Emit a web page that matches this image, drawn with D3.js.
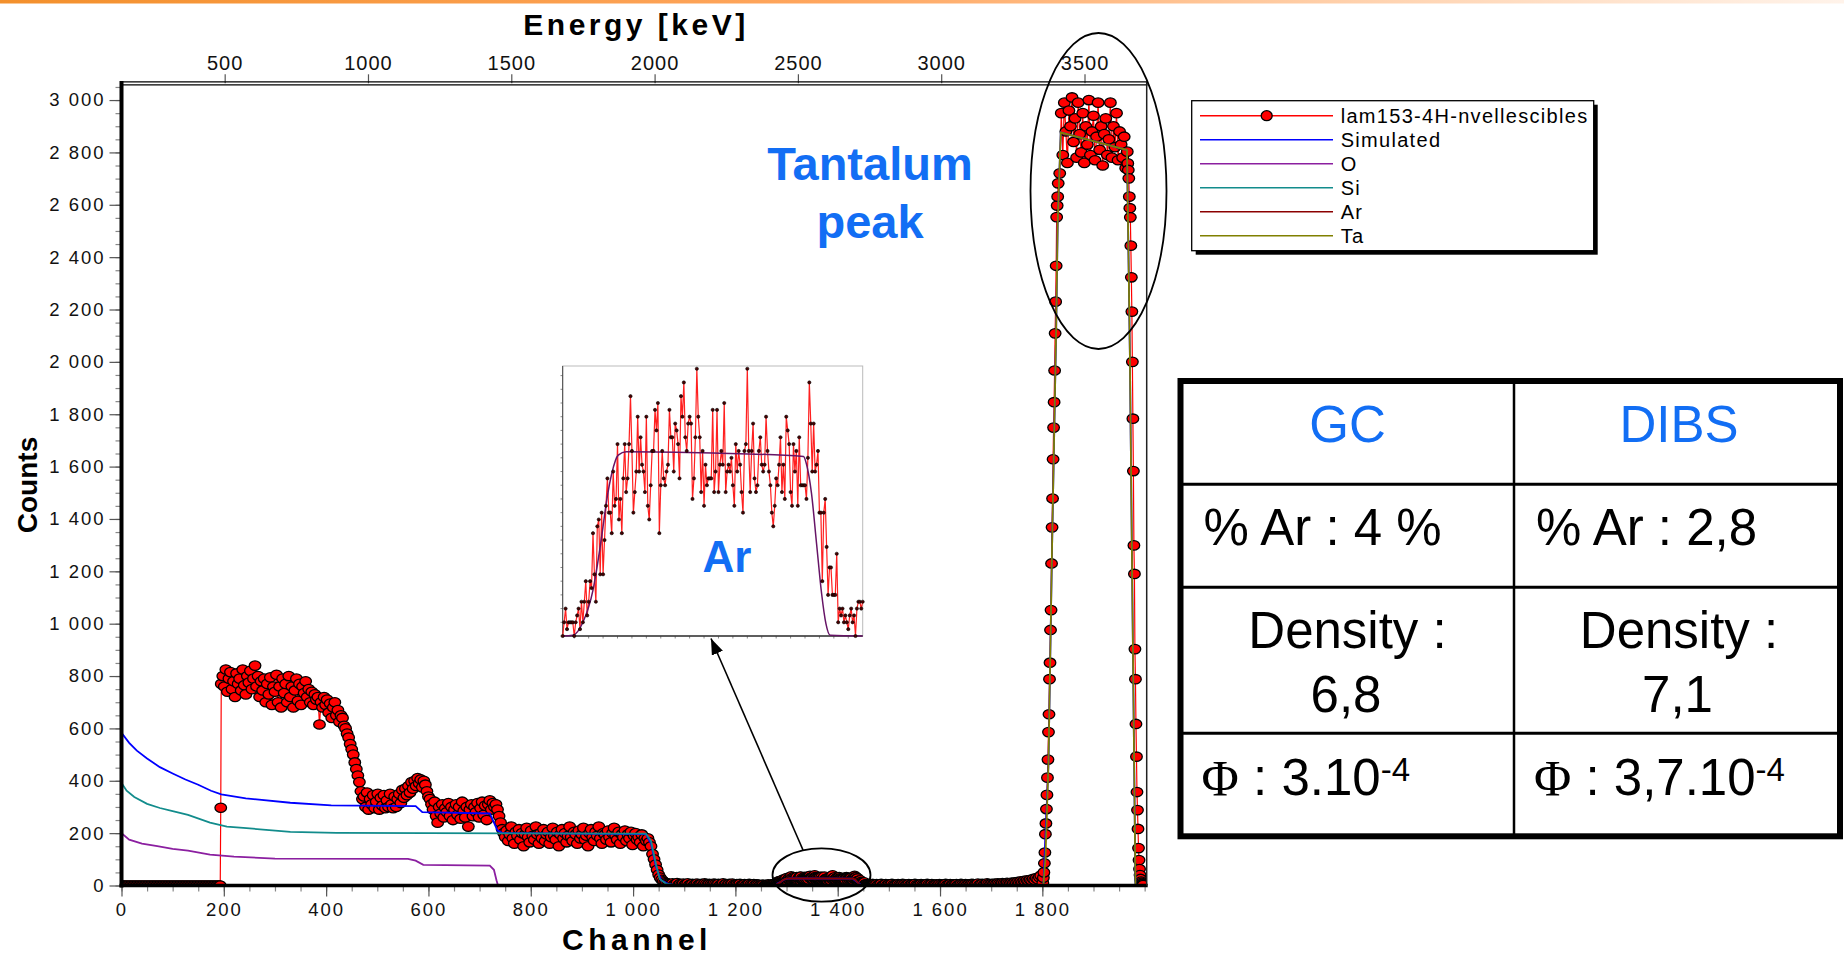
<!DOCTYPE html>
<html>
<head>
<meta charset="utf-8">
<title>RBS spectrum - Tantalum peak</title>
<style>
  body { margin: 0; background: #fff; overflow: hidden; }
  svg { display: block; font-family: "Liberation Sans", Arial, sans-serif; }
  .axis text { font-family: "Liberation Sans", Arial, sans-serif; font-size: 18.5px; letter-spacing: 2px; fill: #111; }
  .axis line { stroke: #555; stroke-width: 1.2; }
  .axis.minor line { stroke: #888; }
  .eaxis text { font-size: 20px; letter-spacing: 1px; }
  .title { font-weight: bold; fill: #000; }
  .legend text { font-size: 20px; letter-spacing: 1.3px; fill: #000; }
  .cell { font-size: 51px; fill: #000; }
  .blue { fill: #126ef4; }
</style>
</head>
<body>
<script src="https://d3js.org/d3.v7.min.js"></script>
<script>

// ---------- measured spectrum: counts per channel, read off the plot ----------
// each block: first channel, channel step, counts
var leadCounts = [
  0,0,0,0,0,0,0,0,0,0,0,0,0,
  0,0,0,0,0,0,0,0,0,0,0,0,0,
  0,0,0,0,0,0,0,0,0,0,0,0,0,
  0,0,0,0,0,0,0,0,0,0,0,0,0,
  0,0,0,0,0,0,0,0,0,0,0,0,0
];
var edgePoints = [[193, 0], [194, 297]];
var plateauCounts = [
  770,800,760,825,740,790,815,750,780,720,810,770,790,745,825,765,730,800,775,820,750,790,
  840,760,800,720,780,745,790,700,770,730,795,690,760,740,
  805,700,760,680,790,735,770,700,800,720,760,680,745,790,705,770,690,760,735,780,
  720,750,700,740,690,730,710,720,615,700,680,720,690,
  710,660,695,640,680,700,650,670,625,650,640,610,600,
  580,565,540,520,500,470,445,420,395,360,330
];
var lowCounts = [
  340,300,355,290,330,310,345,295,320,350,
  290,335,305,345,295,325,300,350,310,295,
  340,300,330,350,315,365,335,370,345,380,
  355,395,370,400,380,410,390,405,375,400,
  385,360,340
];
var stepCounts = [
  330,310,290,320,265,240,300,275,310,260,
  295,280,315,265,300,250,290,310,270,300,
  255,320,285,260,300,225,290,310,265,300,
  280,315,260,295,320,270,305,250,310,325,
  290,315,300,310,290,265
];
var shelfCounts = [
  240,215,200,185,210,170,195,225,180,160,
  205,190,215,175,200,150,195,220,185,165,
  210,190,175,225,195,160,200,180,215,170,
  195,205,160,185,220,190,175,205,150,195,
  215,180,200,165,190,225,185,170,205,195,
  160,210,180,195,220,175,190,150,200,215,
  185,170,205,190,225,180,160,200,195,175,
  210,185,165,200,220,190,175,205,160,195,
  185,210,170,195,180,205,155,190,200,175,
  185,165,195,150,180,170
];
var siEdgeCounts = [180,165,150,120,100,80,60,42,30,22,16,12,9,7];
var gapACounts = [
  6,4,8,3,5,9,2,6,4,7, 3,5,8,2,4,6,1,5,7,3, 4,6,2,8,5,3,6,4,2,7,
  5,3,6,1,4,8,3,5,2,6, 4,7,3,2,5,4,6,1,3,5, 2,4,6,3,1,5,2,4,3,1, 2,3,0,2
];
// argon bump, one value per channel (same data as the inset)
var arCounts = [
  0,2,4,1,2,2,2,2,0,2, 3,4,1,5,2,5,8,3,5,8,
  7,15,9,5,16,17,9,18,9,14, 19,23,18,18,15,24,19,20,28,17,
  20,15,23,28,21,23,28,35,27,18, 21,24,32,24,29,25,24,21,32,19,
  17,22,27,27,33,30,34,15,22,27, 23,22,24,25,33,29,29,24,31,30,
  28,23,35,32,37,29,27,31,32,31, 20,23,29,39,32,29,21,27,19,25,
  22,23,23,23,33,21,24,33,21,25, 27,25,34,21,24,25,24,26,22,19,
  28,24,27,25,21,18,27,28,39,27, 21,27,31,23,21,22,27,29,25,24,
  25,32,27,24,22,18,16,19,23,22, 25,29,21,25,20,32,30,28,21,19,
  28,24,27,19,29,22,22,22,22,20, 26,37,31,24,31,24,25,27,18,18,
  8,18,20,13,6,10,10,6,6,6, 12,2,4,3,4,2,3,2,1,3, 4,2,3,0,4,5,5,4,5
];
var gapBCounts = [
  3,5,2,4,6,1,3,5,2,4, 3,6,2,1,4,5,3,2,6,4, 1,3,5,2,4,3,6,2,1,4,
  5,3,2,4,6,3,1,5,2,3, 4,2,5,3,1,4,6,2,3,5, 2,4,3,5,1,3,6,4,2,5,
  3,4,2,6,5,3,4,7,2,5, 6,3,4,8,5,3,6,4,7,5, 8,6,4,9,7,5,10,8,6,11,
  9,12,10,14,11,16,13,18,15,20, 17,22,19,25,21,28,24,32,38
];
var taRiseCounts = [
  10,30,50,85,126,196,237,292,346,412,481,586,654,788,851,976,
  1052,1230,1368,1478,1628,1749,1846,1967,2109,2230,2367,2553,2597,2631,2682
];
var taTopCounts = [
  2720,2950,2790,2990,2880,2760,2960,2900,3010,2840,
  2930,2780,2990,2870,2800,2950,2760,2900,2830,3000,
  2790,2880,2940,2770,2860,2990,2810,2900,2750,2870,
  2930,2790,2850,2990,2780,2900,2820,2950,2770,2880,
  2830,2780,2860,2740
];
var taFallCounts = [
  2803,2758,2733,2701,2631,2587,2552,2444,2323,2192,2000,1783,1583,1299,1190,903,
  788,617,492,357,288,216,143,97,63,40,25,15,10,6,4,2
];

// ---------- simulated curves [channel, counts] ----------
var simulatedCurve = [[0,583],[15,545],[30,515],[50,485],[75,452],[100,428],[125,405],[150,385],[175,362],
  [195,348],[243,333],[330,316],[410,306],[575,303],[588,280],[720,275],[735,210],[745,200],[1025,196],
  [1035,160],[1045,70],[1055,20],[1070,5],[1085,0],[1265,0],[1276,2],[1289,14.5],[1296,23.7],[1306,26.9],
  [1429,26.2],[1438,13.5],[1447,0],[1802,0],[1812,465],[1819,1293],[1827,2122],[1830,2529],[1836,2876],
  [1965.5,2809],[1971,2045],[1975,1293],[1982,0],[2004,0]];
var oCurve = [[0,200],[15,175],[40,160],[70,150],[100,140],[130,133],[173,118],[220,110],[300,103],
  [560,102],[575,95],[590,79],[720,76],[728,60],[733,20],[736,0]];
var siCurve = [[0,392],[10,362],[25,338],[50,312],[75,296],[100,284],[130,270],[173,240],[206,225],
  [238,220],[330,205],[420,201],[600,200],[1025,198],[1035,170],[1045,80],[1052,25],[1065,6],[1085,0]];
var arCurve = [[1262,0],[1269,0.1],[1276,2],[1283,6.7],[1289,14.5],[1292.5,19.8],[1296,23.7],[1300.5,26.4],
  [1306,26.9],[1366,26.7],[1429,26.2],[1431,25.1],[1434.5,20.8],[1438,13.5],[1441.5,6.2],[1444.5,1.8],
  [1447.5,0.1],[1470,0]];
var taCurve = [[1795,0],[1802,0],[1806,100],[1812,465],[1819,1293],[1827,2122],[1830,2529],[1836,2876],
  [1965.5,2809],[1971,2045],[1975,1293],[1982,0],[1990,0]];

// ---------- ticks, legend, table ----------
var countTicks = [0,200,400,600,800,1000,1200,1400,1600,1800,2000,2200,2400,2600,2800,3000];
var channelTicks = [0,200,400,600,800,1000,1200,1400,1600,1800];
var energyTicks = [500,1000,1500,2000,2500,3000,3500];
var legendNames = ["lam153-4H-nvellescibles", "Simulated", "O", "Si", "Ar", "Ta"];
var legendColors = ["#ff0000", "#0000ff", "#8b1fa0", "#128c8c", "#8b0000", "#808000"];
var tableHead = ["GC", "DIBS"];
var tableArgon = ["% Ar : 4 %", "% Ar : 2,8"];
var tableDensity = ["6,8", "7,1"];
var tablePhi = ["3.10", "3,7.10"];

// ---------- build the measured points ----------
var blocks = [
  {start: 0, step: 3, counts: leadCounts},
  {start: 195, step: 3, counts: plateauCounts},
  {start: 474, step: 3, counts: lowCounts},
  {start: 603, step: 3, counts: stepCounts},
  {start: 741, step: 3, counts: shelfCounts},
  {start: 1029, step: 3, counts: siEdgeCounts},
  {start: 1071, step: 3, counts: gapACounts},
  {start: 1262, step: 1, counts: arCounts},
  {start: 1473, step: 3, counts: gapBCounts},
  {start: 1801, step: 1, counts: taRiseCounts},
  {start: 1834, step: 3, counts: taTopCounts},
  {start: 1966, step: 1, counts: taFallCounts}
];
var expPoints = edgePoints.slice();
blocks.forEach(function(b){
  b.counts.forEach(function(c, i){ expPoints.push([b.start + i * b.step, c]); });
});
expPoints.sort(function(a, b){ return a[0] - b[0]; });
var arPoints = arCounts.map(function(c, i){ return [1262 + i, c]; });

// ---------- svg ----------
var W = 1844, H = 955;
var svg = d3.select("body").append("svg").attr("width", W).attr("height", H);
var defs = svg.append("defs");

var grad = defs.append("linearGradient").attr("id", "band");
grad.selectAll("stop")
  .data([["0%", "#f3902c"], ["45%", "#ffa65e"], ["75%", "#ffd3b0"], ["100%", "#fff3ea"]])
  .enter().append("stop")
  .attr("offset", function(d){ return d[0]; })
  .attr("stop-color", function(d){ return d[1]; });
svg.append("rect").attr("x", 0).attr("y", 0).attr("width", W).attr("height", 3.5).attr("fill", "url(#band)");

var pL = 121.5, pR = 1146.7, pT = 83.3, pB = 885.5;

defs.append("clipPath").attr("id", "plotclip").append("rect")
  .attr("x", pL + 1).attr("y", pT).attr("width", pR - pL - 1.5).attr("height", pB - pT);

defs.append("marker").attr("id", "arrowhead")
  .attr("viewBox", "0 0 16 12").attr("refX", 16).attr("refY", 6)
  .attr("markerUnits", "userSpaceOnUse").attr("markerWidth", 16).attr("markerHeight", 12)
  .attr("orient", "auto")
  .append("path").attr("d", "M0,0 L16,6 L0,12 z").attr("fill", "#000");

var x = d3.scaleLinear().domain([0, 2004]).range([pL, pR]);
var y = d3.scaleLinear().domain([0, 3064]).range([pB, pT]);
var xe = d3.scaleLinear().domain([140, 3717]).range([pL, pR]);

var line = d3.line().x(function(d){ return x(d[0]); }).y(function(d){ return y(d[1]); });

// ---------- data ----------
var plot = svg.append("g").attr("clip-path", "url(#plotclip)");

plot.append("path").datum(expPoints)
  .attr("d", line).attr("fill", "none").attr("stroke", "#ff0000").attr("stroke-width", 1.2);

plot.selectAll("ellipse.pt").data(expPoints).enter().append("ellipse")
  .attr("class", "pt")
  .attr("cx", function(d){ return x(d[0]); })
  .attr("cy", function(d){ return y(d[1]); })
  .attr("rx", 5.8).attr("ry", 4.7)
  .attr("fill", "#ff0000").attr("stroke", "#000").attr("stroke-width", 1.3);

var fits = [
  {pts: simulatedCurve, color: legendColors[1]},
  {pts: oCurve, color: legendColors[2]},
  {pts: siCurve, color: legendColors[3]},
  {pts: arCurve, color: legendColors[4]},
  {pts: taCurve, color: legendColors[5]}
];
fits.forEach(function(f){
  plot.append("path").datum(f.pts)
    .attr("d", line).attr("fill", "none").attr("stroke", f.color).attr("stroke-width", 1.8);
});

// ---------- axes ----------
var fmt = d3.formatLocale({decimal: ",", thousands: " ", grouping: [3], currency: ["", ""]}).format(",d");

function clean(g){ g.select(".domain").remove(); g.attr("font-family", null).attr("font-size", null); }

svg.append("g").attr("class", "axis minor").attr("transform", "translate(" + pL + ",0)")
  .call(d3.axisLeft(y).tickValues(d3.range(0, 3051, 50)).tickSize(6).tickFormat(""))
  .call(clean);
svg.append("g").attr("class", "axis").attr("transform", "translate(" + pL + ",0)")
  .call(d3.axisLeft(y).tickValues(countTicks).tickSize(12).tickPadding(4).tickFormat(fmt))
  .call(clean);

svg.append("g").attr("class", "axis minor").attr("transform", "translate(0," + pB + ")")
  .call(d3.axisBottom(x).tickValues(d3.range(0, 2001, 50)).tickSize(6).tickFormat(""))
  .call(clean);
svg.append("g").attr("class", "axis").attr("transform", "translate(0," + pB + ")")
  .call(d3.axisBottom(x).tickValues(channelTicks).tickSize(11).tickPadding(6).tickFormat(fmt))
  .call(clean);

svg.append("g").attr("class", "axis eaxis").attr("transform", "translate(0," + pT + ")")
  .call(d3.axisTop(xe).tickValues(energyTicks).tickSize(9).tickPadding(4).tickFormat(d3.format("d")))
  .call(clean);

// frame
svg.append("line").attr("x1", pL).attr("x2", pL).attr("y1", 81).attr("y2", pB + 2)
  .attr("stroke", "#000").attr("stroke-width", 4);
svg.append("line").attr("x1", pL - 2).attr("x2", pR + 1).attr("y1", pB).attr("y2", pB)
  .attr("stroke", "#000").attr("stroke-width", 3.5);
svg.append("line").attr("x1", pL).attr("x2", pR + 1).attr("y1", 81.8).attr("y2", 81.8)
  .attr("stroke", "#000").attr("stroke-width", 1.3);
svg.append("line").attr("x1", pL).attr("x2", pR + 1).attr("y1", 84.8).attr("y2", 84.8)
  .attr("stroke", "#000").attr("stroke-width", 1.3);
svg.append("line").attr("x1", pR).attr("x2", pR).attr("y1", 81.5).attr("y2", pB)
  .attr("stroke", "#222").attr("stroke-width", 1.5);

// axis titles
svg.append("text").attr("class", "title").attr("x", 636).attr("y", 35)
  .attr("text-anchor", "middle").style("font-size", "30px").style("letter-spacing", "3.5px")
  .text("Energy [keV]");
svg.append("text").attr("class", "title").attr("x", 637).attr("y", 950)
  .attr("text-anchor", "middle").style("font-size", "30px").style("letter-spacing", "4.5px")
  .text("Channel");
svg.append("text").attr("class", "title").attr("transform", "translate(37,485) rotate(-90)")
  .attr("text-anchor", "middle").style("font-size", "28px")
  .text("Counts");

// ---------- inset (argon zoom) ----------
var ix = d3.scaleLinear().domain([1262, 1470]).range([562.7, 862.7]);
var iy = d3.scaleLinear().domain([0, 39.4]).range([636, 366]);
var iline = d3.line().x(function(d){ return ix(d[0]); }).y(function(d){ return iy(d[1]); });
var inset = svg.append("g");

inset.append("rect").attr("x", 562.7).attr("y", 366).attr("width", 300).attr("height", 270)
  .attr("fill", "#fff").attr("stroke", "#bbb").attr("stroke-width", 1);
inset.selectAll("line.ly").data(d3.range(0, 40, 2)).enter().append("line")
  .attr("x1", 560.5).attr("x2", 562.7)
  .attr("y1", function(d){ return iy(d); }).attr("y2", function(d){ return iy(d); })
  .attr("stroke", "#888").attr("stroke-width", 1);
inset.selectAll("line.lx").data(d3.range(1270, 1470, 10)).enter().append("line")
  .attr("x1", function(d){ return ix(d); }).attr("x2", function(d){ return ix(d); })
  .attr("y1", 636).attr("y2", 638.5)
  .attr("stroke", "#888").attr("stroke-width", 1);
inset.append("line").attr("x1", 562.7).attr("x2", 562.7).attr("y1", 366).attr("y2", 636)
  .attr("stroke", "#444").attr("stroke-width", 1);
inset.append("line").attr("x1", 562.7).attr("x2", 862.7).attr("y1", 636).attr("y2", 636)
  .attr("stroke", "#333").attr("stroke-width", 1.5);

inset.append("path").datum(arPoints).attr("d", iline)
  .attr("fill", "none").attr("stroke", "#ff2020").attr("stroke-width", 1.2);
inset.append("path").datum(arCurve).attr("d", iline.curve(d3.curveMonotoneX))
  .attr("fill", "none").attr("stroke", "#661466").attr("stroke-width", 1.5);
inset.selectAll("circle").data(arPoints).enter().append("circle")
  .attr("cx", function(d){ return ix(d[0]); })
  .attr("cy", function(d){ return iy(d[1]); })
  .attr("r", 1.6).attr("fill", "#4a0000").attr("stroke", "#000").attr("stroke-width", 0.6);

svg.append("text").attr("class", "blue").attr("x", 727).attr("y", 571.7)
  .attr("text-anchor", "middle").style("font-size", "44px").style("font-weight", "bold").text("Ar");

// ---------- annotations ----------
svg.append("ellipse").attr("cx", 1098.5).attr("cy", 191).attr("rx", 68).attr("ry", 158)
  .attr("fill", "none").attr("stroke", "#000").attr("stroke-width", 1.8);
svg.append("ellipse").attr("cx", 821.5).attr("cy", 875).attr("rx", 49).attr("ry", 26.7)
  .attr("fill", "none").attr("stroke", "#000").attr("stroke-width", 1.8);
svg.append("line").attr("x1", 803).attr("y1", 850).attr("x2", 711).attr("y2", 638.5)
  .attr("stroke", "#000").attr("stroke-width", 1.6).attr("marker-end", "url(#arrowhead)");

var tant = svg.append("text").attr("class", "blue").attr("text-anchor", "middle")
  .style("font-size", "47px").style("font-weight", "bold");
tant.append("tspan").attr("x", 870).attr("y", 180).text("Tantalum");
tant.append("tspan").attr("x", 870).attr("y", 238).text("peak");

// ---------- legend ----------
var lg = svg.append("g").attr("class", "legend");
lg.append("rect").attr("x", 1195.7).attr("y", 104.7).attr("width", 402).attr("height", 150).attr("fill", "#000");
lg.append("rect").attr("x", 1191.7).attr("y", 100.7).attr("width", 402).attr("height", 150)
  .attr("fill", "#fff").attr("stroke", "#000").attr("stroke-width", 1.3);
legendNames.forEach(function(name, i){
  var ly = 115.7 + 24 * i;
  lg.append("line").attr("x1", 1200).attr("x2", 1333).attr("y1", ly).attr("y2", ly)
    .attr("stroke", legendColors[i]).attr("stroke-width", 1.6);
  if (i === 0) {
    lg.append("ellipse").attr("cx", 1266.7).attr("cy", ly).attr("rx", 5.5).attr("ry", 5)
      .attr("fill", "#ff0000").attr("stroke", "#000").attr("stroke-width", 1.3);
  }
  lg.append("text").attr("x", 1340.7).attr("y", ly).attr("dy", "0.36em").text(name);
});

// ---------- results table ----------
var tb = svg.append("g");
var tL = 1180.5, tR = 1840, tT = 381, tB = 836.3, tMid = 1514;
tb.append("rect").attr("x", tL).attr("y", tT).attr("width", tR - tL).attr("height", tB - tT)
  .attr("fill", "#fff").attr("stroke", "#000").attr("stroke-width", 6);
[484.3, 587.3, 733.3].forEach(function(ry){
  tb.append("line").attr("x1", tL).attr("x2", tR).attr("y1", ry).attr("y2", ry)
    .attr("stroke", "#000").attr("stroke-width", 3);
});
tb.append("line").attr("x1", tMid).attr("x2", tMid).attr("y1", tT).attr("y2", tB)
  .attr("stroke", "#000").attr("stroke-width", 2.5);

var colCenter = [1347.5, 1679], colLeft = [1203.6, 1536];
tableHead.forEach(function(t, i){
  tb.append("text").attr("class", "cell blue").attr("x", colCenter[i]).attr("y", 441.7)
    .attr("text-anchor", "middle").text(t);
});
tableArgon.forEach(function(t, i){
  tb.append("text").attr("class", "cell").attr("x", colLeft[i]).attr("y", 545).text(t);
});
tableDensity.forEach(function(t, i){
  tb.append("text").attr("class", "cell").attr("x", colCenter[i]).attr("y", 648.3)
    .attr("text-anchor", "middle").text("Density :");
  tb.append("text").attr("class", "cell").attr("x", colCenter[i] - 1.5).attr("y", 711.7)
    .attr("text-anchor", "middle").text(t);
});
tablePhi.forEach(function(t, i){
  var tx = tb.append("text").attr("class", "cell").attr("x", colLeft[i] - 2).attr("y", 795);
  tx.append("tspan").style("font-family", "'Liberation Serif', 'Times New Roman', serif").text("\u03A6");
  tx.append("tspan").text(" : " + t);
  tx.append("tspan").attr("dy", -14).style("font-size", "33px").text("-4");
});

</script>
</body>
</html>
